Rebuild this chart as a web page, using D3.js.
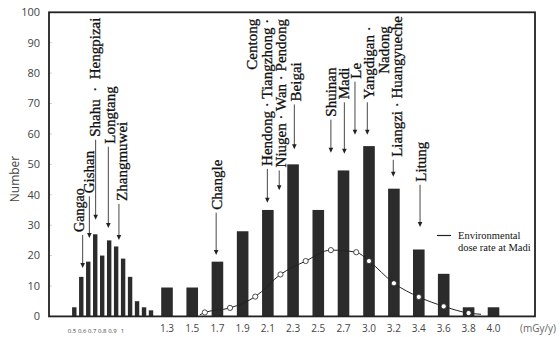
<!DOCTYPE html>
<meta charset="utf-8">
<style>
body { margin: 0; background: #fff; }
svg text { font-family: "Liberation Serif", "Times New Roman", serif; fill: #111; }
.note { stroke: #111; stroke-width: 0.3; }
.ax text { font-family: "Open Sans", sans-serif; fill: #444; }
</style>
<body>
<svg width="560" height="337"></svg>
<script src="https://cdn.jsdelivr.net/npm/d3@7"></script>
<script>
// low dose villages, narrow bins
var smallDose = [0.5, 0.55, 0.6, 0.65, 0.7, 0.75, 0.8, 0.85, 0.9, 0.95, 1.0, 1.05];
var smallCount = [3, 13, 18, 27, 20, 25, 23, 19, 13, 5, 3, 2];
// high dose villages
var bigDose = [1.3, 1.5, 1.7, 1.9, 2.1, 2.3, 2.5, 2.7, 3.0, 3.2, 3.4, 3.6, 3.8, 4.0];
var bigCount = [9.5, 9.5, 18, 28, 35, 50, 35, 48, 56, 42, 22, 14, 3, 3];
var smallTicks = [0.5, 0.6, 0.7, 0.8, 0.9, 1];
var bigTicks = ["1.3", "1.5", "1.7", "1.9", "2.1", "2.3", "2.5", "2.7", "3.0", "3.2", "3.4", "3.6", "3.8", "4.0"];
var yTicks = [0, 10, 20, 30, 40, 50, 60, 70, 80, 90, 100];
// environmental dose rate at Madi (curve)
var madiDose = [1.56, 1.6, 1.8, 2.0, 2.2, 2.4, 2.6, 2.85, 3.0, 3.2, 3.4, 3.6, 3.8, 3.9];
var madiValue = [0.5, 1.3, 2.8, 6.5, 13.8, 18.2, 21.8, 21.1, 18.2, 10.9, 6.4, 3.3, 1.1, 0.7];
// village labels: arrow at dose, arrow from/to in count units
var notes = [
  {dose: 0.56, from: 26.8, to: 15.9, text: "Gangao", size: 14, dx: -3},
  {dose: 0.608, from: 39.5, to: 25.8, text: "Gishan"},
  {dose: 0.653, from: 58.1, to: 31.8, text: "Shahu\u00a0\u00a0·\u00a0\u00a0Hengpizai"},
  {dose: 0.744, from: 55.8, to: 29.1, text: "Longtang", dx: 1.5},
  {dose: 0.82, from: 37.0, to: 25.1, text: "Zhangmuwei", dx: 3},
  {dose: 1.69, from: 34.1, to: 20.2, text: "Changle", dx: 1},
  {dose: 2.096, from: 48.5, to: 37.4, text: "Hendong · Tiangzhong ·", extra: "Centong", side: -1},
  {dose: 2.19, from: 48.0, to: 41.5, text: "Niugen · Wan · Pendong", dx: 2},
  {dose: 2.31, from: 69.7, to: 55.0, text: "Beigai", dx: 1.5},
  {dose: 2.6, from: 64.7, to: 53.8, text: "Shuinan"},
  {dose: 2.71, from: 70.4, to: 53.5, text: "Madi"},
  {dose: 2.835, from: 77.2, to: 59.7, text: "Le", dx: 1.5},
  {dose: 2.98, from: 70.4, to: 59.7, text: "Yangdigan ·", extra: "Nadong", side: 1, dx: 2},
  {dose: 3.195, from: 51.5, to: 45.9, text: "Liangzi · Huangyueche", dx: 4},
  {dose: 3.41, from: 43.3, to: 29.4, text: "Litung", dx: 1.5}
];

var svg = d3.select("svg");

var x = d3.scaleLinear()
    .domain([0.5, 1.05, 1.3, 2.7, 3.0, 4.0])
    .range([74.3, 151, 167, 343.5, 369, 493.5]);
var xSmallTick = d3.scaleLinear().domain([0.5, 1]).range([72, 122.5]);
var y = d3.scaleLinear().domain([0, 100]).range([316.4, 12.3]);

// y axis labels
var ax = svg.append("g").attr("class", "ax");
ax.selectAll(".yt").data(yTicks).enter().append("text")
    .attr("x", 40).attr("y", function(d) { return y(d); })
    .attr("dy", "0.35em").attr("text-anchor", "end")
    .style("font-size", "11px").text(function(d) { return d; });
svg.selectAll(".ytick").data(yTicks.slice(1, -1)).enter().append("line")
    .attr("x1", 49).attr("x2", 52)
    .attr("y1", function(d) { return y(d); }).attr("y2", function(d) { return y(d); })
    .attr("stroke", "#bbb").attr("stroke-width", 0.7);

ax.append("text")
    .attr("transform", "translate(15," + 179 + ") rotate(-90)")
    .attr("text-anchor", "middle").attr("dy", "0.35em")
    .style("font-size", "12px").text("Number");

// x labels
ax.selectAll(".xs").data(smallTicks).enter().append("text")
    .attr("x", function(d) { return xSmallTick(d); }).attr("y", 332.5)
    .attr("text-anchor", "middle").style("font-size", "6px")
    .text(function(d) { return d; });
ax.selectAll(".xb").data(bigTicks).enter().append("text")
    .attr("x", function(d) { return x(+d); }).attr("y", 331.5)
    .attr("text-anchor", "middle").style("font-size", "10px")
    .text(function(d) { return d; });
ax.append("text").attr("x", 538).attr("y", 331.5)
    .attr("text-anchor", "middle").style("font-size", "10px").style("fill", "#666")
    .text("(mGy/y)");

// bars
svg.selectAll(".sbar").data(smallDose).enter().append("rect")
    .attr("x", function(d) { return x(d) - 2.2; })
    .attr("width", 4.4)
    .attr("y", function(d, i) { return y(smallCount[i]); })
    .attr("height", function(d, i) { return y(0) - y(smallCount[i]); })
    .attr("fill", "#2b2b2b");
svg.selectAll(".bbar").data(bigDose).enter().append("rect")
    .attr("x", function(d) { return x(d) - 5.8; })
    .attr("width", 11.6)
    .attr("y", function(d, i) { return y(bigCount[i]); })
    .attr("height", function(d, i) { return y(0) - y(bigCount[i]); })
    .attr("fill", "#2b2b2b");

// dose rate curve
var pts = madiDose.map(function(d, i) { return [x(d), y(madiValue[i])]; });
svg.append("path")
    .attr("d", d3.line().curve(d3.curveMonotoneX)(pts))
    .attr("fill", "none").attr("stroke", "#222").attr("stroke-width", 1);
svg.selectAll(".dot").data(pts.slice(1, -1)).enter().append("circle")
    .attr("cx", function(d) { return d[0]; }).attr("cy", function(d) { return d[1]; })
    .attr("r", 2.6).attr("fill", "#fff").attr("stroke", "#222").attr("stroke-width", 0.8);

// frame
svg.append("rect").attr("x", 49).attr("y", 12.3).attr("width", 486).attr("height", 304.1)
    .attr("fill", "none").attr("stroke", "#222").attr("stroke-width", 1.8);

// legend
svg.append("line").attr("x1", 437).attr("x2", 451).attr("y1", 235.5).attr("y2", 235.5)
    .attr("stroke", "#222").attr("stroke-width", 1.2);
svg.append("text").attr("x", 458).attr("y", 239).style("font-size", "10.5px").text("Environmental");
svg.append("text").attr("x", 458).attr("y", 251).style("font-size", "10.5px").text("dose rate at Madi");

// annotations
notes.forEach(function(n) {
  var ax0 = x(n.dose), y0 = y(n.from), y1 = y(n.to);
  var tx = ax0 + (n.dx || 0), fs = (n.size || 15) + "px";
  svg.append("line").attr("x1", ax0).attr("x2", ax0).attr("y1", y0).attr("y2", y1 - 4)
      .attr("stroke", "#333").attr("stroke-width", 0.9);
  svg.append("path")
      .attr("d", "M" + (ax0 - 2.3) + "," + (y1 - 5) + "L" + (ax0 + 2.3) + "," + (y1 - 5) + "L" + ax0 + "," + y1 + "Z")
      .attr("fill", "#222");
  var t = svg.append("text").attr("class", "note")
      .attr("transform", "translate(" + tx + "," + (y0 - 3) + ") rotate(-90)")
      .attr("dy", "0.32em").style("font-size", fs).text(n.text);
  if (n.extra) {
    var len = t.node().getComputedTextLength();
    svg.append("text").attr("class", "note")
        .attr("transform", "translate(" + (tx + n.side * 15) + "," + (y0 - 3 - len) + ") rotate(-90)")
        .attr("dy", "0.32em").attr("text-anchor", "end").style("font-size", fs).text(n.extra);
  }
});
</script>
</body>
